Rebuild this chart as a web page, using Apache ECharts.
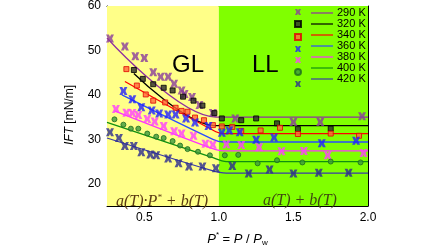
<!DOCTYPE html>
<html>
<head>
<meta charset="utf-8">
<script src="https://cdn.jsdelivr.net/npm/echarts@6/dist/echarts.min.js"></script>
<style>
  html, body { margin: 0; padding: 0; background: #fff; }
  #chart { width: 448px; height: 252px; }
</style>
</head>
<body>
<div id="chart"></div>
<script>
// temperatures (legend)
var temps = ["290 K", "320 K", "340 K", "360 K", "380 K", "400 K", "420 K"];

// measured points [P*, IFT]
var p290 = [[0.27,52.7],[0.37,50.9],[0.44,48.7],[0.5,48.3],[0.56,45.1],[0.61,44.1],[0.66,44.1],[0.7,42.5],[0.75,41.0],[0.77,40.2],[0.82,39.5],[0.87,37.7],[0.96,35.9],[1.11,34.7],[1.5,33.9],[1.68,33.9],[1.96,35.2]];
var p320 = [[0.43,45.6],[0.49,43.6],[0.56,42.4],[0.63,41.6],[0.69,41.0],[0.76,39.6],[0.83,38.7],[0.89,37.6],[0.97,35.9],[1.02,34.7],[1.15,34.3],[1.25,34.7],[1.39,33.6],[1.53,32.3],[1.75,32.4]];
var p340 = [[0.38,45.8],[0.45,42.1],[0.51,40.1],[0.56,38.7],[0.64,38.3],[0.71,37.1],[0.75,36.4],[0.79,36.2],[0.84,34.9],[0.9,34.3],[0.96,33.2],[1.02,32.9],[1.09,32.8],[1.15,31.9],[1.28,32.0],[1.41,32.6],[1.53,31.2],[1.75,31.3],[1.94,30.8]];
var p360 = [[0.36,40.9],[0.42,39.0],[0.48,37.2],[0.55,36.5],[0.6,35.8],[0.66,35.6],[0.71,35.6],[0.78,34.7],[0.84,33.8],[0.93,33.0],[1.02,31.5],[1.07,32.0],[1.14,31.6],[1.25,29.9],[1.37,30.4],[1.69,29.1],[1.92,29.7]];
var p380 = [[0.31,36.8],[0.38,36.0],[0.42,35.9],[0.46,35.5],[0.52,34.6],[0.57,34.0],[0.63,33.0],[0.7,31.8],[0.75,31.3],[0.83,30.8],[0.91,29.0],[0.96,28.8],[1.05,28.9],[1.15,28.7],[1.27,28.2],[1.42,27.3],[1.57,27.4],[1.73,26.4],[1.97,26.9]];
var p400 = [[0.3,34.5],[0.36,33.3],[0.41,32.4],[0.46,32.4],[0.52,31.3],[0.58,30.6],[0.63,30.3],[0.69,29.6],[0.74,28.6],[0.79,27.8],[0.86,27.2],[0.94,26.4],[1.04,26.4],[1.13,26.5],[1.26,24.6],[1.39,25.3],[1.56,24.8],[1.75,25.0],[1.95,24.8]];
var p420 = [[0.27,31.6],[0.33,30.3],[0.37,28.5],[0.43,28.5],[0.48,27.1],[0.54,26.6],[0.58,26.4],[0.66,25.7],[0.73,24.6],[0.8,23.9],[0.89,23.9],[0.98,23.5],[1.09,24.0],[1.2,22.3],[1.34,23.2],[1.5,22.3],[1.67,22.5],[1.87,22.5]];

// fitted curves (GL slope, then LL plateau)
var f290 = [[0.25,52.8],[0.98,35.0],[2.0,35.0]];
var f320 = [[0.43,44.8],[0.97,33.1],[2.0,33.1]];
var f340 = [[0.37,43.0],[0.98,31.7],[1.04,31.3],[2.0,31.3]];
var f360 = [[0.35,40.0],[0.96,30.0],[1.03,29.4],[2.0,29.4]];
var f380 = [[0.3,36.4],[0.95,28.0],[1.03,27.4],[2.0,27.4]];
var f400 = [[0.25,33.8],[0.95,26.0],[1.05,25.0],[2.0,25.0]];
var f420 = [[0.25,30.3],[0.95,23.0],[1.05,22.4],[2.0,22.4]];

// regions: GL from 0.25 to 1.0, LL from 1.0 to 2.0
var regionEdges = [0.25, 1.0, 2.0];

var xTicks = [0.25,0.5,0.75,1.0,1.25,1.5,1.75,2.0];
var xLabels = [0.5,1.0,1.5,2.0];
var yTicks = [20,30,40,50,60];

var points = [p290, p320, p340, p360, p380, p400, p420];
var fits = [f290, f320, f340, f360, f380, f400, f420];

// chunky cross marker
var xMark = 'path://M0,0L3.6,0L5,2.8L6.4,0L10,0L7.6,5L10,10L6.4,10L5,7.2L3.6,10L0,10L2.4,5Z';
var markers = [
  { symbol: xMark, size: 8, color: '#8a3c9c' },
  { symbol: 'rect', size: 5, color: '#2a2a2a', border: '#000' },
  { symbol: 'rect', size: 5, color: '#ff6a3a', border: '#e00000' },
  { symbol: xMark, size: 8, color: '#2020ff' },
  { symbol: xMark, size: 8, color: '#ff40ff' },
  { symbol: 'circle', size: 5, color: '#3c9a3c', border: '#1d6b1d' },
  { symbol: xMark, size: 8, color: '#2a2a90' }
];
var lineColors = ['#9030a0', '#000000', '#ff0000', '#2a4cff', '#ff30ff', '#109010', '#3a3aa8'];

var chartDom = document.getElementById('chart');
var myChart = echarts.init(chartDom);

var series = [];
// background regions
series.push({
  type: 'line',
  data: [],
  silent: true,
  z: 0,
  markArea: {
    silent: true,
    data: [
      [{ xAxis: regionEdges[0], itemStyle: { color: '#ffff88' } }, { xAxis: regionEdges[1] }],
      [{ xAxis: regionEdges[1], itemStyle: { color: '#80ff00' } }, { xAxis: regionEdges[2] }]
    ]
  }
});
fits.forEach(function (d, i) {
  series.push({
    name: temps[i],
    type: 'line',
    data: d,
    symbol: 'none',
    smooth: 0.3,
    lineStyle: { color: lineColors[i], width: 1.3 },
    itemStyle: { color: lineColors[i] },
    z: 2
  });
});
points.forEach(function (d, i) {
  var m = markers[i];
  series.push({
    name: temps[i] + ' ',
    type: 'scatter',
    data: d,
    symbol: m.symbol,
    symbolSize: m.size,
    itemStyle: { color: m.color, borderColor: m.border || m.color, borderWidth: m.border ? 1 : 0 },
    z: 3
  });
});

var axisLineStyle = { color: '#000', width: 1 };

var option = {
  animation: false,
  backgroundColor: '#fff',
  grid: { left: 107, right: 80, top: 5, bottom: 35 },
  legend: [
    {
      data: temps.map(function (t) { return t + ' '; }),
      orient: 'vertical',
      left: 294,
      top: 9,
      itemWidth: 6,
      itemHeight: 6,
      itemGap: 5,
      padding: 0,
      formatter: function () { return ''; },
      textStyle: { fontSize: 1, lineHeight: 1 }
    },
    {
      data: temps,
      orient: 'vertical',
      left: 311,
      top: 7,
      icon: 'rect',
      itemWidth: 22,
      itemHeight: 1.2,
      itemGap: -1,
      padding: 0,
      textStyle: { fontFamily: 'Liberation Sans', fontSize: 11, lineHeight: 12, color: '#000', padding: [0, 0, 0, -1] }
    }
  ],
  xAxis: [
    {
      type: 'value',
      min: 0.25,
      max: 2.0,
      interval: 0.25,
      name: '{i|P}{s|*} = {i|P} / {i|P}{w|w}',
      nameLocation: 'middle',
      nameGap: 25,
      nameTextStyle: {
        fontFamily: 'Liberation Sans', fontSize: 13, color: '#000',
        rich: {
          i: { fontStyle: 'italic', fontSize: 13, fontFamily: 'Liberation Sans' },
          s: { fontSize: 8, verticalAlign: 'top', padding: [0, 0, 8, 0] },
          w: { fontSize: 8, verticalAlign: 'bottom', padding: [8, 0, 0, 0] }
        }
      },
      axisLine: { onZero: false, lineStyle: axisLineStyle },
      axisTick: { inside: true, length: 4, customValues: xTicks, lineStyle: axisLineStyle },
      axisLabel: {
        customValues: xLabels,
        formatter: function (v) { return v.toFixed(1); },
        fontFamily: 'Liberation Sans', fontSize: 12, color: '#000', margin: 6
      },
      splitLine: { show: false }
    },
    {
      type: 'value',
      position: 'top',
      min: 0.25,
      max: 2.0,
      interval: 0.25,
      axisLine: { onZero: false, lineStyle: axisLineStyle },
      axisTick: { inside: true, length: 4, customValues: xTicks, lineStyle: axisLineStyle },
      axisLabel: { show: false },
      splitLine: { show: false }
    }
  ],
  yAxis: [
    {
      type: 'value',
      min: 15,
      max: 60,
      interval: 5,
      name: '{i|IFT} [mN/m]',
      nameLocation: 'middle',
      nameGap: 31,
      nameTextStyle: {
        fontFamily: 'Liberation Sans', fontSize: 12, color: '#000',
        padding: [0, 18, 0, 0],
        rich: { i: { fontStyle: 'italic', fontSize: 12, fontFamily: 'Liberation Sans' } }
      },
      axisLine: { onZero: false, lineStyle: axisLineStyle },
      axisTick: { inside: true, length: 4, customValues: yTicks, lineStyle: axisLineStyle },
      axisLabel: { customValues: yTicks, fontFamily: 'Liberation Sans', fontSize: 12, color: '#000', margin: 6 },
      splitLine: { show: false }
    },
    {
      type: 'value',
      position: 'right',
      min: 15,
      max: 60,
      interval: 5,
      axisLine: { onZero: false, lineStyle: axisLineStyle },
      axisTick: { inside: true, length: 4, customValues: yTicks, lineStyle: axisLineStyle },
      axisLabel: { show: false },
      splitLine: { show: false }
    }
  ],
  graphic: [
    { type: 'text', left: 172, top: 53, z: 10, style: { text: 'GL', font: '24px "Liberation Sans"', fill: '#000' } },
    { type: 'text', left: 252, top: 53, z: 10, style: { text: 'LL', font: '24px "Liberation Sans"', fill: '#000' } },
    {
      type: 'text', left: 116, top: 193, z: 10,
      style: {
        text: '{i|a}(T)·{i|P}{s|*} + {i|b}(T)',
        font: 'italic 16px "Liberation Serif"', fill: '#5a3a12',
        rich: {
          i: { font: 'italic 16px "Liberation Serif"', fill: '#5a3a12' },
          s: { font: 'italic 9px "Liberation Serif"', fill: '#5a3a12', verticalAlign: 'top', padding: [0, 0, 8, 0] }
        }
      }
    },
    { type: 'text', left: 263, top: 193, z: 10, style: { text: 'a(T) + b(T)', font: 'italic 16px "Liberation Serif"', fill: '#3f4a10' } }
  ],
  series: series
};

myChart.setOption(option);
window.addEventListener('resize', function () {
  myChart.resize();
});
</script>
</body>
</html>
